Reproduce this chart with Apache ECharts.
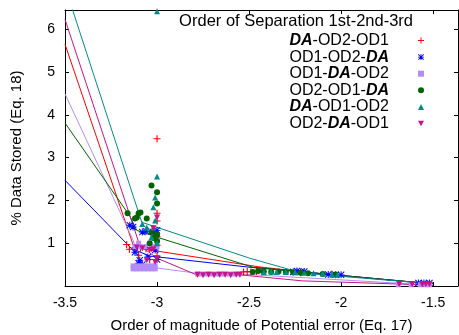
<!DOCTYPE html>
<html>
<head>
<meta charset="utf-8">
<style>
  html, body { margin: 0; padding: 0; background: #fff; }
  #chart { width: 459px; height: 335px; }
</style>
<script src="https://cdn.jsdelivr.net/npm/echarts@6/dist/echarts.min.js"></script>
</head>
<body>
<div id="chart"></div>
<script>
// tick labels
const xTicks = [-3.5, -3, -2.5, -2, -1.5]
const yTicks = [1, 2, 3, 4, 5, 6]

const names = ['DA-OD2-OD1', 'OD1-OD2-DA', 'OD1-DA-OD2', 'OD2-OD1-DA', 'DA-OD1-OD2', 'OD2-DA-OD1']

// DA-OD2-OD1
const redPts = [[-3.0, 3.44], [-3.0, 1.70], [-3.0, 1.52], [-3.165, 0.97], [-3.15, 0.86], [-3.12, 0.90],
  [-3.09, 0.88], [-3.06, 0.87], [-3.03, 0.88], [-3.0, 0.95], [-3.0, 1.15], [-3.1, 0.72], [-3.04, 0.62],
  [-3.0, 0.70], [-2.53, 0.33], [-2.51, 0.34], [-2.49, 0.33], [-2.46, 0.34], [-2.43, 0.33], [-2.22, 0.31],
  [-2.05, 0.28], [-1.52, 0.06]]
const redLine = [[-3.5, 5.65], [-3.125, 0.90], [-2.45, 0.45], [-2.21, 0.33], [-1.505, 0.05]]

// OD1-OD2-DA
const bluePts = [[-3.148, 1.42], [-3.13, 1.38], [-3.08, 1.26], [-3.06, 1.28], [-3.02, 1.26], [-3.0, 1.30],
  [-3.12, 0.79], [-3.094, 0.60], [-3.1, 0.53], [-3.08, 0.50], [-3.01, 0.84], [-3.0, 0.62], [-3.05, 0.68],
  [-2.26, 0.33], [-2.24, 0.35], [-2.22, 0.33], [-2.2, 0.34], [-2.07, 0.27], [-2.03, 0.26], [-2.0, 0.26],
  [-1.58, 0.07], [-1.55, 0.07], [-1.52, 0.07]]
const blueLine = [[-3.5, 2.47], [-3.14, 0.88], [-3.04, 0.70], [-2.5, 0.44], [-2.21, 0.33], [-1.505, 0.05]]

// OD1-DA-OD2
const lavPts = [[-3.13, 0.40], [-3.11, 0.40], [-3.09, 0.40], [-3.07, 0.40], [-3.05, 0.40], [-3.03, 0.40], [-3.01, 0.40],
  [-3.13, 0.47], [-3.11, 0.47], [-3.09, 0.47], [-3.07, 0.47], [-3.05, 0.47], [-3.03, 0.47], [-3.01, 0.47],
  [-3.12, 0.92], [-3.09, 0.92], [-3.06, 0.92], [-3.03, 0.92], [-3.0, 0.92], [-3.1, 1.0], [-3.0, 1.02],
  [-2.78, 0.28], [-2.755, 0.28], [-2.73, 0.28], [-2.705, 0.28], [-2.68, 0.28], [-2.655, 0.28], [-2.63, 0.28],
  [-2.605, 0.28], [-2.58, 0.28], [-2.555, 0.28],
  [-1.69, 0.03], [-1.62, 0.03], [-1.57, 0.03], [-1.54, 0.03], [-1.52, 0.03]]
const lavLine = [[-3.5, 4.49], [-3.13, 1.07], [-3.09, 0.50], [-3.0, 0.42], [-2.785, 0.30], [-2.55, 0.28], [-1.505, 0.02]]

// OD2-OD1-DA
const greenPts = [[-3.03, 2.35], [-3.0, 2.19], [-3.0, 1.93], [-3.16, 1.70], [-3.1, 1.70], [-3.09, 1.72],
  [-3.12, 1.58], [-3.11, 1.60], [-3.056, 1.58], [-3.03, 1.26], [-3.02, 1.12], [-3.0, 1.05], [-3.04, 1.0],
  [-3.0, 1.2], [-2.48, 0.33], [-2.45, 0.35], [-2.42, 0.34], [-2.38, 0.33], [-2.34, 0.34], [-2.3, 0.33],
  [-2.26, 0.32], [-2.22, 0.31], [-2.18, 0.30], [-2.1, 0.28], [-2.03, 0.27]]
const greenLine = [[-3.5, 3.81], [-3.15, 1.65], [-3.11, 1.30], [-2.985, 1.12], [-2.48, 0.44], [-2.21, 0.33], [-1.505, 0.05]]

// DA-OD1-OD2
const tealPts = [[-3.0, 6.42], [-3.0, 2.56], [-3.01, 2.07], [-3.02, 1.84], [-3.01, 1.53], [-3.056, 1.37],
  [-3.02, 1.37], [-3.03, 1.14], [-3.08, 1.45], [-3.0, 1.0], [-2.42, 0.33], [-2.38, 0.34], [-2.35, 0.33],
  [-2.3, 0.33], [-2.25, 0.32], [-2.2, 0.31], [-2.15, 0.30], [-2.1, 0.29], [-2.05, 0.27], [-2.02, 0.26]]
const tealLine = [[-3.47, 6.6], [-3.083, 1.49], [-2.497, 0.65], [-2.21, 0.30], [-1.505, 0.05]]

// OD2-DA-OD1
const magPts = [[-3.0, 1.60], [-3.02, 1.35], [-3.04, 0.84], [-3.08, 0.88], [-3.11, 0.90], [-3.056, 0.60],
  [-3.01, 0.56], [-3.02, 0.86], [-3.0, 0.65], [-2.78, 0.26], [-2.75, 0.25], [-2.72, 0.26], [-2.69, 0.25],
  [-2.66, 0.26], [-2.63, 0.26], [-2.6, 0.25], [-2.57, 0.26], [-2.55, 0.26],
  [-1.684, 0.04], [-1.614, 0.04], [-1.56, 0.04], [-1.54, 0.04], [-1.52, 0.04]]
const magLine = [[-3.5, 6.23], [-3.094, 0.95], [-3.0, 0.65], [-2.785, 0.26], [-2.55, 0.26], [-2.21, 0.12], [-1.505, 0.02]]

const pointSets = [redPts, bluePts, lavPts, greenPts, tealPts, magPts]
const lineSets = [redLine, blueLine, lavLine, greenLine, tealLine, magLine]

const colors = ['#ff0000', '#0000ff', '#b48cf8', '#006400', '#008b8b', '#c71585']
const symbols = [
  'path://M4.2,0H5.8V4.2H10V5.8H5.8V10H4.2V5.8H0V4.2H4.2Z',
  'path://M4.3,0H5.7V10H4.3Z M0,4.3H10V5.7H0Z M0,1L1,0L5,4L9,0L10,1L6,5L10,9L9,10L5,6L1,10L0,9L4,5Z',
  'rect',
  'circle',
  'triangle',
  'path://M0,0L10,0L5,9Z'
]
const sizes = [7, 7, 5, 6, 6, 6]

const font = 'Liberation Sans'

const chart = echarts.init(document.getElementById('chart'))

const series = []
lineSets.forEach((d, i) => {
  series.push({
    name: names[i] + ' line',
    type: 'line',
    data: d,
    showSymbol: false,
    silent: true,
    lineStyle: { color: colors[i], width: 1 },
    z: 2
  })
})
pointSets.forEach((d, i) => {
  series.push({
    name: names[i],
    type: 'scatter',
    data: d,
    symbol: symbols[i],
    symbolSize: sizes[i],
    itemStyle: { color: colors[i], opacity: 1 },
    z: 3
  })
})

const axisLine = { show: true, onZero: false, lineStyle: { color: '#000', width: 1 } }

const option = {
  animation: false,
  backgroundColor: '#fff',
  textStyle: { fontFamily: font },
  title: {
    text: 'Order of Separation 1st-2nd-3rd',
    right: 46,
    top: 13,
    padding: 0,
    textStyle: { fontFamily: font, fontSize: 16.5, fontWeight: 'normal', color: '#000' }
  },
  legend: {
    data: names,
    orient: 'vertical',
    align: 'right',
    right: 35,
    top: 32.5,
    padding: 0,
    itemWidth: 6,
    itemHeight: 6,
    itemGap: 0.6,
    formatter: name => {
      const p = name.split('DA')
      return p[0] + '{b|DA}' + p[1]
    },
    textStyle: {
      fontFamily: font,
      fontSize: 16,
      lineHeight: 16,
      color: '#000',
      padding: [0, 24, 0, 0],
      rich: {
        b: { fontFamily: font, fontSize: 16, fontWeight: 'bold', fontStyle: 'italic', color: '#000' }
      }
    }
  },
  grid: { left: 65, right: 1, top: 10, bottom: 49, outerBoundsMode: 'none' },
  xAxis: [
    {
      type: 'value',
      min: -3.5,
      max: -1.365,
      interval: 0.5,
      position: 'bottom',
      name: 'Order of magnitude of Potential error (Eq. 17)',
      nameLocation: 'middle',
      nameGap: 32,
      nameTextStyle: { fontFamily: font, fontSize: 15, color: '#000' },
      axisLine: axisLine,
      axisTick: { show: true, inside: true, length: 4, lineStyle: { color: '#000' } },
      axisLabel: {
        fontFamily: font, fontSize: 14, color: '#000', margin: 10,
        showMaxLabel: false,
        formatter: v => xTicks.includes(Math.round(v * 10) / 10) ? String(Math.round(v * 10) / 10) : ''
      },
      splitLine: { show: false }
    },
    {
      type: 'value',
      min: -3.5,
      max: -1.365,
      interval: 0.5,
      position: 'top',
      axisLine: axisLine,
      axisTick: { show: true, inside: true, length: 4, lineStyle: { color: '#000' } },
      axisLabel: { show: false },
      splitLine: { show: false }
    }
  ],
  yAxis: [
    {
      type: 'value',
      min: 0,
      max: 6.45,
      interval: 1,
      position: 'left',
      name: '% Data Stored (Eq. 18)',
      nameLocation: 'middle',
      nameGap: 41,
      nameTextStyle: { fontFamily: font, fontSize: 15, color: '#000' },
      axisLine: axisLine,
      axisTick: { show: true, inside: true, length: 4, lineStyle: { color: '#000' } },
      axisLabel: {
        fontFamily: font, fontSize: 14, color: '#000', margin: 10,
        showMinLabel: false, showMaxLabel: false,
        formatter: v => yTicks.includes(v) ? String(v) : ''
      },
      splitLine: { show: false }
    },
    {
      type: 'value',
      min: 0,
      max: 6.45,
      interval: 1,
      position: 'right',
      axisLine: axisLine,
      axisTick: { show: true, inside: true, length: 4, lineStyle: { color: '#000' } },
      axisLabel: { show: false },
      splitLine: { show: false }
    }
  ],
  series: series
}

chart.setOption(option)
</script>
</body>
</html>
